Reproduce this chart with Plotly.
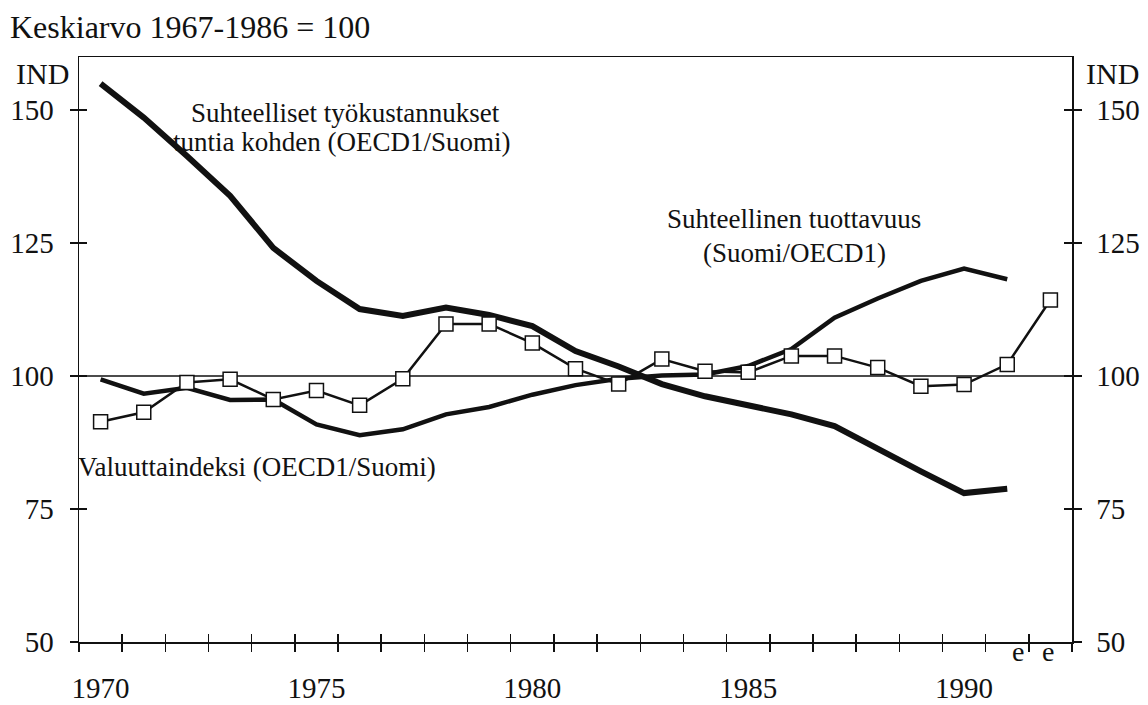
import plotly.graph_objects as go

years = list(range(1970, 1993))
currency_index = [91.4, 93.2, 98.8, 99.4, 95.6, 97.3, 94.5, 99.5, 109.8, 109.8, 106.2,
                  101.4, 98.5, 103.2, 100.9, 100.7, 103.8, 103.8, 101.6, 98.1, 98.4, 102.2, 114.3]
years_short = list(range(1970, 1992))
labour_cost = [155.0, 148.6, 141.4, 133.9, 124.1, 117.9, 112.6, 111.3, 112.9, 111.5, 109.4,
               104.7, 101.8, 98.5, 96.2, 94.5, 92.8, 90.6, 86.2, 82.1, 78.0, 78.8]
productivity = [99.4, 96.7, 97.8, 95.5, 95.6, 90.9, 88.9, 90.0, 92.8, 94.2, 96.5,
                98.3, 99.5, 100.1, 100.3, 101.9, 105.1, 111.0, 114.6, 117.9, 120.2, 118.2]

x_label_years = [1970, 1975, 1980, 1985, 1990]
y_ticks = [50, 75, 100, 125, 150]
BASE = 100
X_RANGE = [1969.5, 1992.5]
Y_RANGE = [50, 160]
boundaries = [y + 0.5 for y in range(1969, 1993)]

FONT = "Liberation Serif, Times New Roman, serif"
INK = "#111111"

fig = go.Figure()

# empty traces so that the overlay axes (used for crossing tick marks) are drawn
for xa, ya in [("x2", "y2"), ("x3", "y3"), ("x", "y4")]:
    fig.add_trace(go.Scatter(x=[], y=[], xaxis=xa, yaxis=ya, mode="lines",
                             hoverinfo="skip", showlegend=False))

fig.add_trace(go.Scatter(x=years_short, y=labour_cost, mode="lines",
                         line=dict(color=INK, width=6), hoverinfo="skip", showlegend=False))
fig.add_trace(go.Scatter(x=years_short, y=productivity, mode="lines",
                         line=dict(color=INK, width=4.5), hoverinfo="skip", showlegend=False))
fig.add_trace(go.Scatter(x=years, y=currency_index, mode="lines+markers",
                         line=dict(color=INK, width=2.5),
                         marker=dict(symbol="square", size=14, color="white",
                                     line=dict(color=INK, width=1.5)),
                         hoverinfo="skip", showlegend=False))

fig.add_shape(type="line", xref="paper", x0=0, x1=1, yref="y", y0=BASE, y1=BASE,
              line=dict(color=INK, width=1.5), layer="below")

tickfont = dict(family=FONT, size=29, color=INK)
common = dict(showgrid=False, zeroline=False, automargin=False, fixedrange=True)

fig.update_layout(
    width=1148, height=705,
    margin=dict(l=79, r=76, t=57, b=63, autoexpand=False),
    paper_bgcolor="white", plot_bgcolor="white",
    font=dict(family=FONT, color=INK),
    xaxis=dict(range=X_RANGE, tickmode="array", tickvals=boundaries, showticklabels=False,
               ticks="outside", ticklen=8, tickwidth=1.5, tickcolor=INK,
               showline=True, linecolor=INK, linewidth=1.5, mirror=True, **common),
    xaxis2=dict(range=X_RANGE, overlaying="x", anchor="y", side="bottom", tickmode="array",
                tickvals=boundaries, showticklabels=False, ticks="inside", ticklen=8,
                tickwidth=1.5, tickcolor=INK, showline=False, **common),
    xaxis3=dict(range=X_RANGE, overlaying="x", anchor="y", side="bottom", tickmode="array",
                tickvals=x_label_years, ticktext=[str(v) for v in x_label_years],
                ticks="", tickfont=tickfont, ticklabelstandoff=26, showline=False, **common),
    yaxis=dict(range=Y_RANGE, tickmode="array", tickvals=y_ticks, ticks="outside", ticklen=8,
               tickwidth=1.5, tickcolor=INK, tickfont=tickfont, ticklabelstandoff=10,
               showline=True, linecolor=INK, linewidth=1.5, **common),
    yaxis2=dict(range=Y_RANGE, overlaying="y", anchor="x", side="left", tickmode="array",
                tickvals=y_ticks, ticks="inside", ticklen=8, tickwidth=1.5, tickcolor=INK,
                showticklabels=False, showline=False, **common),
    yaxis3=dict(range=Y_RANGE, overlaying="y", anchor="x", side="right", tickmode="array",
                tickvals=y_ticks, ticks="outside", ticklen=8, tickwidth=1.5, tickcolor=INK,
                tickfont=tickfont, ticklabelstandoff=9,
                showline=True, linecolor=INK, linewidth=1.5, **common),
    yaxis4=dict(range=Y_RANGE, overlaying="y", anchor="x", side="right", tickmode="array",
                tickvals=y_ticks, ticks="inside", ticklen=8, tickwidth=1.5, tickcolor=INK,
                showticklabels=False, showline=False, **common),
)

def px_x(px):
    return (px - 79) / 993.0

def px_y(py):
    return (642 - py) / 585.0

ann_font = dict(family=FONT, size=27, color=INK)
annotations = [
    dict(text="Keskiarvo 1967-1986 = 100", xref="paper", yref="paper", x=px_x(8), y=px_y(27),
         xanchor="left", yanchor="middle", showarrow=False, font=dict(family=FONT, size=32, color=INK)),
    dict(text="IND", xref="paper", yref="paper", x=px_x(42), y=px_y(73),
         xanchor="center", yanchor="middle", showarrow=False, font=dict(family=FONT, size=30, color=INK)),
    dict(text="IND", xref="paper", yref="paper", x=px_x(1112), y=px_y(73),
         xanchor="center", yanchor="middle", showarrow=False, font=dict(family=FONT, size=30, color=INK)),
    dict(text="Suhteelliset työkustannukset", xref="x", yref="y", x=1975.67, y=149.4,
         xanchor="center", yanchor="middle", showarrow=False, font=ann_font),
    dict(text="tuntia kohden (OECD1/Suomi)", xref="x", yref="y", x=1975.58, y=144.0,
         xanchor="center", yanchor="middle", showarrow=False, font=ann_font),
    dict(text="Suhteellinen tuottavuus", xref="x", yref="y", x=1986.07, y=129.6,
         xanchor="center", yanchor="middle", showarrow=False, font=ann_font),
    dict(text="(Suomi/OECD1)", xref="x", yref="y", x=1986.07, y=123.2,
         xanchor="center", yanchor="middle", showarrow=False, font=ann_font),
    dict(text="Valuuttaindeksi (OECD1/Suomi)", xref="x", yref="y", x=1973.63, y=83.0,
         xanchor="center", yanchor="middle", showarrow=False, font=ann_font),
    dict(text="e", xref="x", yref="paper", x=1991.25, y=px_y(651),
         xanchor="center", yanchor="middle", showarrow=False, font=dict(family=FONT, size=28, color=INK)),
    dict(text="e", xref="x", yref="paper", x=1991.95, y=px_y(651),
         xanchor="center", yanchor="middle", showarrow=False, font=dict(family=FONT, size=28, color=INK)),
]
fig.update_layout(annotations=annotations)

fig.write_html(
    "out.html",
    config={"displayModeBar": False, "staticPlot": True},
    post_script="document.body.style.margin='0';document.body.style.overflow='hidden';",
)
